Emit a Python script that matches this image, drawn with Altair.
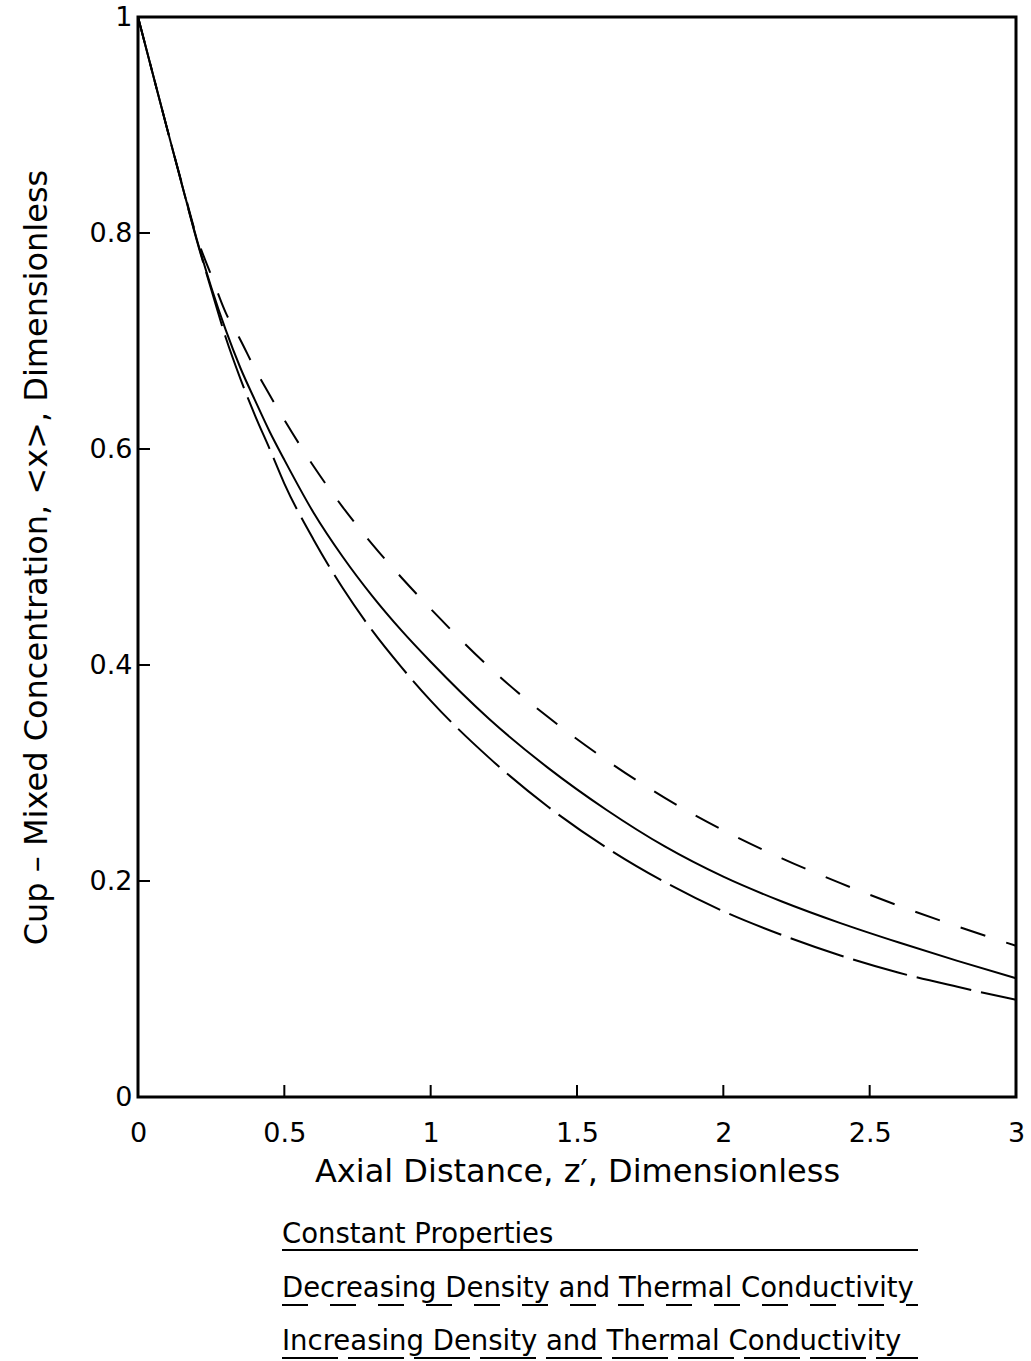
import altair as alt
import pandas as pd

# Axial distance grid (dimensionless)
z = [0, 0.05, 0.1, 0.15, 0.2, 0.25, 0.3, 0.35, 0.4, 0.45, 0.5, 0.6, 0.7, 0.8, 0.9, 1.0,
     1.2, 1.4, 1.6, 1.8, 2.0, 2.2, 2.4, 2.6, 2.8, 3.0]

# Cup-mixed concentration
constant = [1.0, 0.948, 0.896, 0.845, 0.795, 0.750, 0.710, 0.675, 0.645, 0.616, 0.590,
            0.541, 0.500, 0.464, 0.432, 0.403, 0.350, 0.305, 0.266, 0.232, 0.204,
            0.181, 0.161, 0.143, 0.126, 0.110]
decreasing = [1.0, 0.948, 0.896, 0.846, 0.797, 0.761, 0.726, 0.701, 0.674, 0.650, 0.627,
              0.584, 0.546, 0.512, 0.481, 0.452, 0.398, 0.352, 0.312, 0.277, 0.247,
              0.221, 0.198, 0.177, 0.158, 0.140]
increasing = [1.0, 0.948, 0.896, 0.845, 0.794, 0.748, 0.703, 0.665, 0.631, 0.600, 0.568,
              0.516, 0.471, 0.432, 0.398, 0.367, 0.314, 0.269, 0.231, 0.199, 0.172,
              0.150, 0.131, 0.115, 0.102, 0.090]

x_tick_values = [0, 0.5, 1, 1.5, 2, 2.5, 3]
y_tick_values = [0, 0.2, 0.4, 0.6, 0.8, 1]
x_inner_ticks = [0.5, 1, 1.5, 2, 2.5]
y_inner_ticks = [0.2, 0.4, 0.6, 0.8]

legend_labels = ["Constant Properties",
                 "Decreasing Density and Thermal Conductivity",
                 "Increasing Density and Thermal Conductivity"]

FONT = "DejaVu Sans"
W, H = 878, 1080

xs = alt.Scale(domain=[0, 3], nice=False, zero=False)
ys = alt.Scale(domain=[0, 1], nice=False)

xaxis = alt.Axis(values=x_tick_values, format="~g", ticks=False, domain=False, grid=False,
                 labelFontSize=27, labelPadding=23, labelFont=FONT, labelColor="black",
                 title="Axial Distance, z\u2032, Dimensionless", titleFontSize=32,
                 titleFont=FONT, titleFontWeight="normal", titleColor="black", titlePadding=10,
                 labelFlush=False)
yaxis = alt.Axis(values=y_tick_values, format="~g", ticks=False, domain=False, grid=False,
                 labelFontSize=27, labelPadding=6, labelFont=FONT, labelColor="black",
                 title="Cup \u2013 Mixed Concentration, <x>, Dimensionless", titleFontSize=32,
                 titleFont=FONT, titleFontWeight="normal", titleColor="black", titlePadding=36,
                 labelFlush=False)


def curve(vals, dash):
    d = pd.DataFrame({"z": z, "v": vals})
    m = alt.Chart(d).mark_line(color="black", strokeWidth=2, interpolate="monotone",
                               **({"strokeDash": dash} if dash else {}))
    return m.encode(x=alt.X("z:Q", scale=xs, axis=xaxis),
                    y=alt.Y("v:Q", scale=ys, axis=yaxis))


c_const = curve(constant, None)
c_dec = curve(decreasing, [26, 22])
c_inc = curve(increasing, [56, 10])

xt = alt.Chart(pd.DataFrame({"t": x_inner_ticks})).mark_rule(color="black", strokeWidth=2).encode(
    x=alt.X("t:Q", scale=xs), y=alt.value(H), y2=alt.value(H - 12))
yt = alt.Chart(pd.DataFrame({"t": y_inner_ticks})).mark_rule(color="black", strokeWidth=2).encode(
    y=alt.Y("t:Q", scale=ys), x=alt.value(0), x2=alt.value(12))

leg_x0 = 282 - 138
leg_x1 = 918 - 138
leg_rows = [(1243 - 17, 1250 - 17, None), (1297 - 17, 1305 - 17, [26, 22]),
            (1350 - 17, 1358 - 17, [56, 10])]
one = pd.DataFrame({"k": [0]})
legend_layers = []
for lab, (ty, ly, dash) in zip(legend_labels, leg_rows):
    legend_layers.append(
        alt.Chart(one).mark_text(align="left", baseline="alphabetic", fontSize=27.5, font=FONT,
                                 color="black", text=lab).encode(
            x=alt.value(leg_x0), y=alt.value(ty)))
    legend_layers.append(
        alt.Chart(one).mark_rule(color="black", strokeWidth=2,
                                 **({"strokeDash": dash} if dash else {})).encode(
            x=alt.value(leg_x0), x2=alt.value(leg_x1), y=alt.value(ly)))

chart = alt.layer(c_const, c_dec, c_inc, xt, yt, *legend_layers).properties(
    width=W, height=H,
    autosize=alt.AutoSizeParams(type="none"),
    padding={"left": 138, "top": 17, "right": 15, "bottom": 264},
    background="white",
).configure_view(stroke="black", strokeWidth=3)

chart.save("out.html", embed_options={"renderer": "svg", "actions": False})
